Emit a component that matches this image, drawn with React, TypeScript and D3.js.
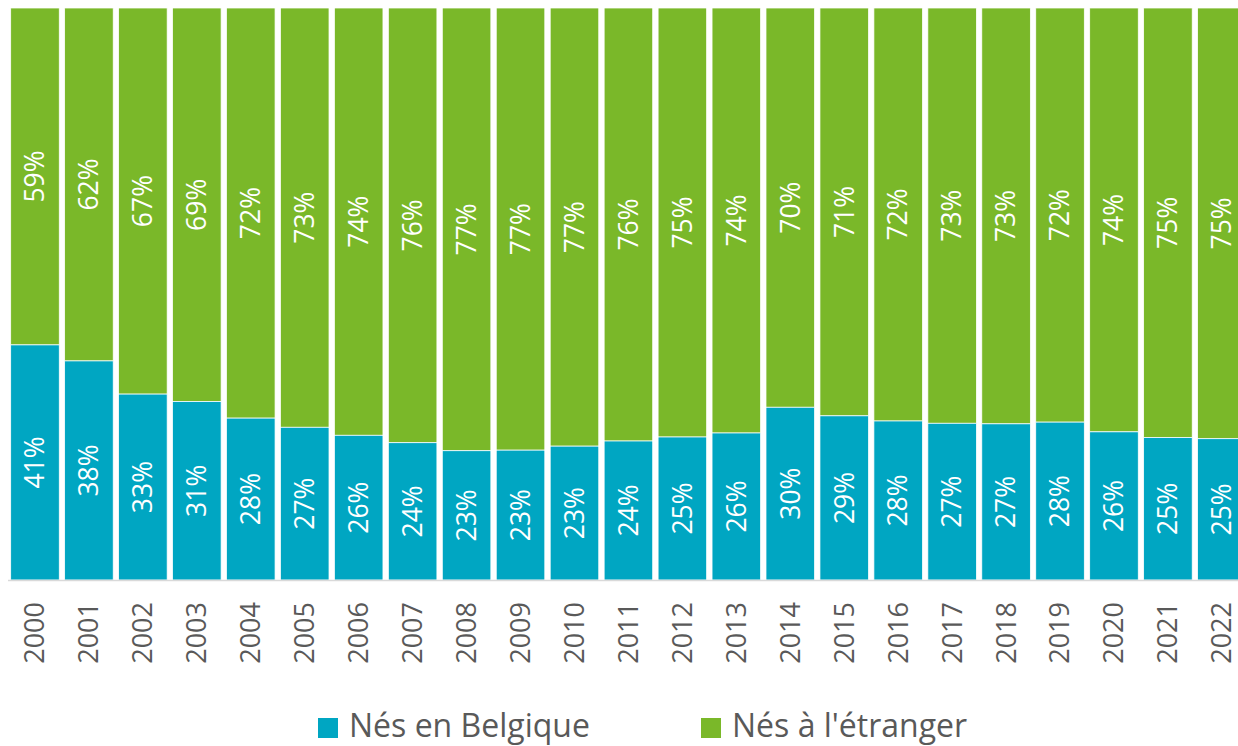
import React from "react";
import * as d3 from "d3";

const years = ["2000","2001","2002","2003","2004","2005","2006","2007","2008","2009","2010","2011","2012","2013","2014","2015","2016","2017","2018","2019","2020","2021","2022"];
const belgique = [0.411,0.383,0.325,0.312,0.283,0.267,0.253,0.240,0.226,0.227,0.234,0.243,0.250,0.257,0.302,0.287,0.278,0.274,0.273,0.276,0.259,0.249,0.247];
const belgiqueLabels = [41,38,33,31,28,27,26,24,23,23,23,24,25,26,30,29,28,27,27,28,26,25,25];
const etrangerLabels = [59,62,67,69,72,73,74,76,77,77,77,76,75,74,70,71,72,73,73,72,74,75,75];
const seriesNames = ["Nés en Belgique", "Nés à l'étranger"];
const colors = ["#00A6C2", "#7AB829"];

const W = 1238, H = 746;
const left = 8, top = 8, bottom = 580;
const bandStep = 53.95;

export default function App() {
  const x = d3.scaleBand<string>().domain(years).range([left, left + years.length * bandStep]).paddingInner(0.1).paddingOuter(0.05);
  const y = d3.scaleLinear().domain([0, 1]).range([bottom, top]);
  const font = "'Open Sans', sans-serif";
  const bw = x.bandwidth();
  return (
    <svg width={W} height={H} style={{ position: "absolute", left: 0, top: 0, display: "block", background: "#fff" }}>
      {years.map((yr, i) => {
        const x0 = x(yr)!;
        const b = belgique[i];
        const cx = x0 + bw / 2;
        const yb = y(b);
        return (
          <g key={yr}>
            <rect x={x0} y={y(1)} width={bw} height={yb - y(1)} fill={colors[1]} stroke="#fff" strokeWidth={0.75} />
            <rect x={x0} y={yb} width={bw} height={y(0) - yb} fill={colors[0]} stroke="#fff" strokeWidth={0.75} />
            <text transform={`translate(${cx},${(y(0) + yb) / 2}) rotate(-90)`} textAnchor="middle" dy="0.35em" fill="#fff" fontFamily={font} fontSize={26.5}>{belgiqueLabels[i]}%</text>
            <text transform={`translate(${cx},${(y(1) + yb) / 2}) rotate(-90)`} textAnchor="middle" dy="0.35em" fill="#fff" fontFamily={font} fontSize={26.5}>{etrangerLabels[i]}%</text>
            <text transform={`translate(${cx},${bottom + 22}) rotate(-90)`} textAnchor="end" dy="0.35em" fill="#595959" fontFamily={font} fontSize={27}>{yr}</text>
          </g>
        );
      })}
      <line x1={left} x2={W} y1={bottom + 0.5} y2={bottom + 0.5} stroke="#D9D9D9" strokeWidth={1.5} />
      {seriesNames.map((n, i) => {
        const lx = i === 0 ? 318 : 701;
        return (
          <g key={n}>
            <rect x={lx} y={718} width={20} height={20} fill={colors[i]} />
            <text x={lx + 31} y={737} fill="#595959" fontFamily={font} fontSize={32}>{n}</text>
          </g>
        );
      })}
    </svg>
  );
}
